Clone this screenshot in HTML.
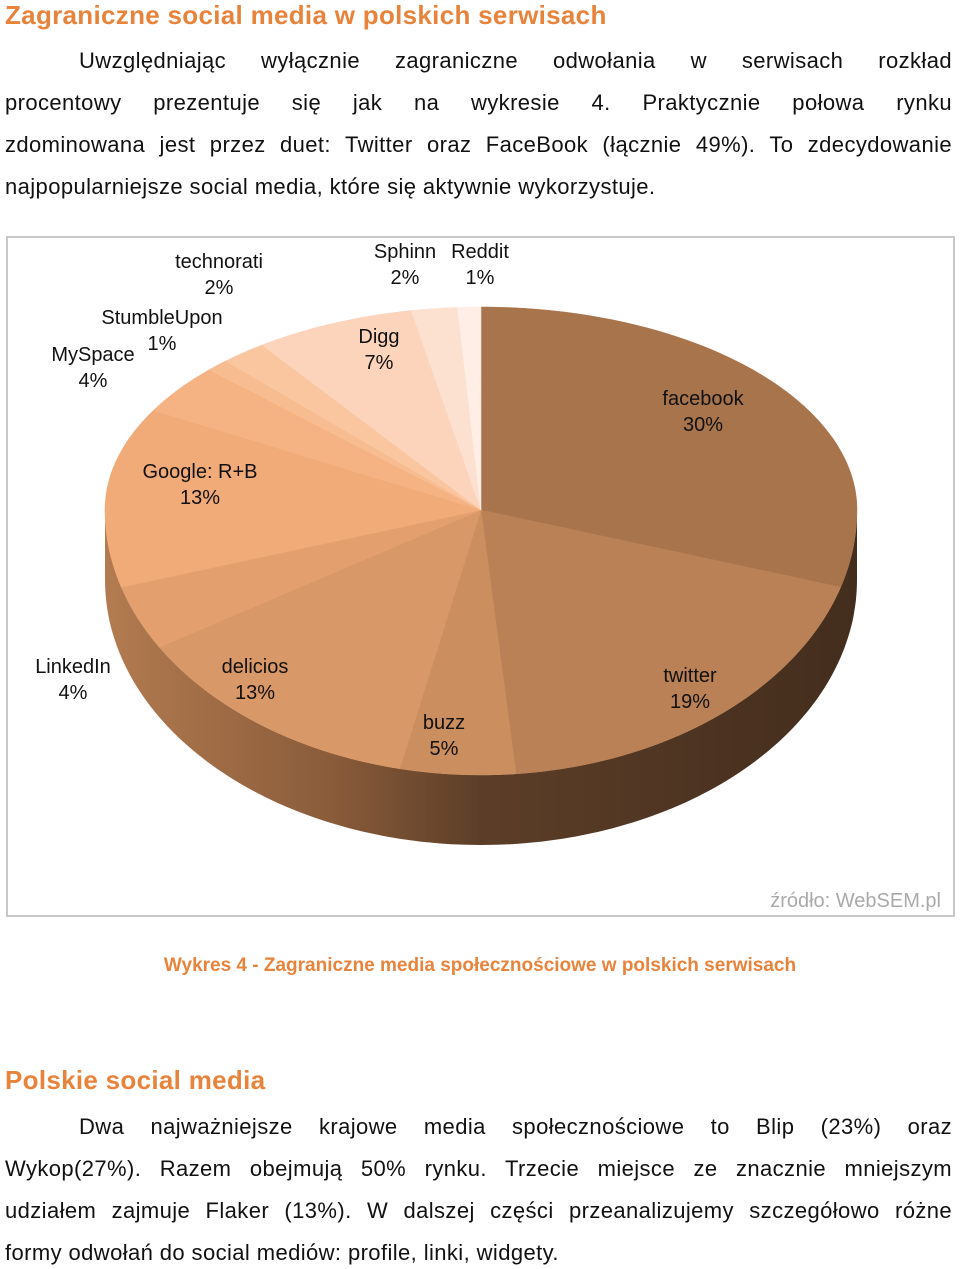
<!DOCTYPE html>
<html><head><meta charset="utf-8"><style>
body{margin:0;width:960px;height:1269px;background:#fff;font-family:"Liberation Sans",sans-serif;color:#111;position:relative;overflow:hidden}
.h{position:absolute;left:5px;color:#e8833c;font-weight:bold;font-size:26px;letter-spacing:0.3px}
.l{position:absolute;left:5px;width:947px;font-size:22px;letter-spacing:0.4px;white-space:nowrap;text-align:justify;text-align-last:justify}
.last{text-align-last:left}
.ind{left:79px;width:873px}
#chart{position:absolute;left:6px;top:236px;width:949px;height:681px;border:2px solid #c8c8c8;box-sizing:border-box}
.cap{position:absolute;left:0;width:960px;text-align:center;top:955px;font-size:19px;font-weight:bold;color:#e8833c}
</style></head><body>
<div class="h" style="top:0px">Zagraniczne social media w polskich serwisach</div>
<div class="l ind" style="top:48px">Uwzględniając wyłącznie zagraniczne odwołania w serwisach rozkład</div>
<div class="l" style="top:90px">procentowy prezentuje się jak na wykresie 4. Praktycznie połowa rynku</div>
<div class="l" style="top:132px">zdominowana jest przez duet: Twitter oraz FaceBook (łącznie 49%). To zdecydowanie</div>
<div class="l last" style="top:174px">najpopularniejsze social media, które się aktywnie wykorzystuje.</div>

<div id="chart">
<svg id="svg" width="949" height="681" viewBox="6 236 949 681" style="position:absolute;left:-2px;top:-2px" font-family="Liberation Sans, sans-serif" font-size="20" fill="#111"></svg>
</div>
<div class="cap">Wykres 4 - Zagraniczne media społecznościowe w polskich serwisach</div>

<div class="h" style="top:1065px">Polskie social media</div>
<div class="l ind" style="top:1114px">Dwa najważniejsze krajowe media społecznościowe to Blip (23%) oraz</div>
<div class="l" style="top:1156px">Wykop(27%). Razem obejmują 50% rynku. Trzecie miejsce ze znacznie mniejszym</div>
<div class="l" style="top:1198px">udziałem zajmuje Flaker (13%). W dalszej części przeanalizujemy szczegółowo różne</div>
<div class="l last" style="top:1240px">formy odwołań do social mediów: profile, linki, widgety.</div>

<script>
const categories=["facebook","twitter","buzz","delicios","LinkedIn","Google: R+B","MySpace","StumbleUpon","technorati","Digg","Sphinn","Reddit"];
const values=[30,19,5,13,4,13,4,1,2,7,2,1];
const labels=["30%","19%","5%","13%","4%","13%","4%","1%","2%","7%","2%","1%"];
const colors=["#a8744c","#b98155","#cb8e5f","#d99867","#e3a06e","#f0ab78","#f5b383","#f7bc90","#f9c6a0","#fcd3bb","#fde1d0","#feeee6"];
const labelPos=[[703,405],[690,682],[444,729],[255,673],[73,673],[200,478],[93,361],[162,324],[219,268],[379,343],[405,258],[480,258]];
const svg=document.getElementById('svg');
const NS='http://www.w3.org/2000/svg';
const cx=481,cy=510,rx=376,ryTop=203,ryBot=265,depth=70;
const total=values.reduce((a,b)=>a+b,0);
function pt(t,dy){const c=Math.cos(t);return [cx+rx*Math.sin(t),cy-(c>0?ryTop:ryBot)*c+(dy||0)];}
function arc(a,b,dy){const n=Math.max(2,Math.ceil(Math.abs(b-a)/0.02));const out=[];for(let k=0;k<=n;k++){out.push(pt(a+(b-a)*k/n,dy).map(v=>v.toFixed(1)).join(','));}return out;}
const defs=document.createElementNS(NS,'defs');
defs.innerHTML='<linearGradient id="sg" x1="0" x2="1" y1="0" y2="0"><stop offset="0" stop-color="#b37b50"/><stop offset="0.3" stop-color="#8a5c3a"/><stop offset="0.5" stop-color="#5c3e28"/><stop offset="1" stop-color="#432d1d"/></linearGradient>';
svg.appendChild(defs);
{
  const a=Math.PI/2,b=3*Math.PI/2;
  const pts=arc(a,b,0).concat(arc(b,a,depth));
  const side=document.createElementNS(NS,'path');
  side.setAttribute('d','M'+pts.join(' L')+' Z');
  side.setAttribute('fill','url(#sg)');
  
  
  svg.appendChild(side);
}
let acc=0;
values.forEach((v,i)=>{
  const a0=acc/total*2*Math.PI;acc+=v;const a1=acc/total*2*Math.PI;
  const pts=arc(a0,a1,0);
  const path=document.createElementNS(NS,'path');
  path.setAttribute('d',`M${cx},${cy} L`+pts.join(' L')+' Z');
  path.setAttribute('fill',colors[i]);
  path.setAttribute('stroke',colors[i]);
  path.setAttribute('stroke-width','0.5');
  
  
  svg.appendChild(path);
});
labelPos.forEach((p,i)=>{
  const t=document.createElementNS(NS,'text');
  t.setAttribute('x',p[0]);t.setAttribute('y',p[1]);
  t.setAttribute('text-anchor','middle');
  
  
  const s1=document.createElementNS(NS,'tspan');s1.setAttribute('x',p[0]);s1.textContent=categories[i];
  const s2=document.createElementNS(NS,'tspan');s2.setAttribute('x',p[0]);s2.setAttribute('dy','26');s2.textContent=labels[i];
  t.appendChild(s1);t.appendChild(s2);svg.appendChild(t);
});
const src=document.createElementNS(NS,'text');
src.setAttribute('x',941);src.setAttribute('y',907);src.setAttribute('text-anchor','end');src.setAttribute('fill','#aaa');


src.textContent='źródło: WebSEM.pl';svg.appendChild(src);
</script>
</body></html>
